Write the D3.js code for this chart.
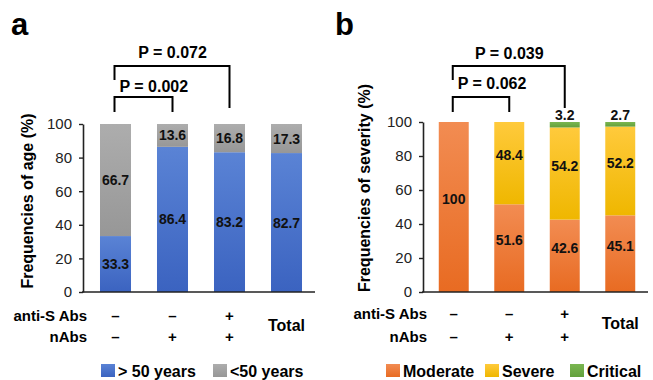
<!DOCTYPE html>
<html lang="en">
<head>
<meta charset="UTF-8">
<title>Age and severity frequencies</title>
<style>
  body { margin: 0; background: #fff; }
  svg text { font-family: "Liberation Sans", Arial, sans-serif; }
</style>
</head>
<body>
<div id="chart"></div>
<script src="https://d3js.org/d3.v7.min.js"></script>
<script>
// ---- data ----
var groups = ["g1", "g2", "g3", "total"];
var antiSRow = ["\u2013", "\u2013", "+", ""];
var nAbsRow = ["\u2013", "+", "+", ""];
var yTicks = [0, 20, 40, 60, 80, 100];

var ageSeries = ["> 50 years", "<50 years"];
var over50 = [33.3, 86.4, 83.2, 82.7];
var under50 = [66.7, 13.6, 16.8, 17.3];

var severitySeries = ["Moderate", "Severe", "Critical"];
var moderate = [100, 51.6, 42.6, 45.1];
var severe = [0, 48.4, 54.2, 52.2];
var critical = [0, 0, 3.2, 2.7];

var ageP = [{a: 0, b: 1, text: "P = 0.002"}, {a: 0, b: 2, text: "P = 0.072"}];
var sevP = [{a: 0, b: 1, text: "P = 0.062"}, {a: 0, b: 2, text: "P = 0.039"}];

var svg = d3.select("#chart").append("svg")
    .attr("width", 653)
    .attr("height", 380);

var defs = svg.append("defs");
function grad(id, top, bottom) {
    var g = defs.append("linearGradient").attr("id", id)
        .attr("x1", 0).attr("y1", 0).attr("x2", 0).attr("y2", 1);
    g.append("stop").attr("offset", "0%").attr("stop-color", top);
    g.append("stop").attr("offset", "100%").attr("stop-color", bottom);
}
grad("gBlue", "#5a83d5", "#3b63c0");
grad("gGray", "#adadad", "#979797");
grad("gOrange", "#f28c52", "#e86b22");
grad("gYellow", "#ffca3c", "#efb700");
grad("gGreen", "#7ab650", "#62a03c");

// draws one stacked panel
function panel(opt) {
    var g = svg.append("g");
    var y = d3.scaleLinear().domain([0, 100]).range([292, opt.yTop]);
    var x = d3.scaleBand().domain(groups)
        .range([opt.x0, opt.x1])
        .paddingInner(opt.pad)
        .paddingOuter(opt.pad / 2);

    var rows = groups.map(function(k, i) {
        var r = {key: k};
        opt.series.forEach(function(s, j) { r[s] = opt.values[j][i]; });
        return r;
    });
    var stacked = d3.stack().keys(opt.series)(rows);

    stacked.forEach(function(layer, j) {
        g.append("g").selectAll("rect")
            .data(layer)
            .enter().append("rect")
            .attr("x", function(d) { return x(d.data.key); })
            .attr("y", function(d) { return y(d[1]); })
            .attr("width", x.bandwidth())
            .attr("height", function(d) { return y(d[0]) - y(d[1]); })
            .attr("fill", "url(#" + opt.fills[j] + ")");
    });

    // value labels
    stacked.forEach(function(layer, j) {
        g.append("g").selectAll("text")
            .data(layer.filter(function(d) { return d[1] - d[0] > 0; }))
            .enter().append("text")
            .attr("x", function(d) { return x(d.data.key) + x.bandwidth() / 2; })
            .attr("y", function(d) {
                if (opt.above && j === opt.series.length - 1) return y(d[1]) - 2;
                return y((d[0] + d[1]) / 2) + 5 + opt.labelShift;
            })
            .attr("text-anchor", "middle")
            .attr("font-size", "14px")
            .attr("font-weight", "bold")
            .attr("fill", "#111")
            .text(function(d) { return d3.format(".1~f")(d[1] - d[0]); });
    });

    // y axis
    var yAxis = d3.axisLeft(y).tickValues(yTicks).tickSizeInner(4).tickSizeOuter(0).tickPadding(7);
    var ya = g.append("g")
        .attr("transform", "translate(" + opt.axisX + ",0)")
        .call(yAxis);
    ya.select(".domain").attr("stroke", "#222").attr("stroke-width", 1.6);
    ya.selectAll(".tick line").attr("stroke", "#222").attr("stroke-width", 1.4);
    ya.selectAll(".tick text").attr("font-size", "15px").attr("fill", "#222");

    // x axis line
    g.append("line")
        .attr("x1", opt.axisX - 1).attr("x2", x.range()[1])
        .attr("y1", y(0)).attr("y2", y(0))
        .attr("stroke", "#222").attr("stroke-width", 1.6);

    // y title
    g.append("text")
        .attr("transform", "translate(" + opt.titleX + "," + opt.titleY + ") rotate(-90)")
        .attr("text-anchor", "middle")
        .attr("font-size", "16px")
        .attr("font-weight", "bold")
        .text(opt.title);

    // panel letter
    g.append("text")
        .attr("x", opt.letterX).attr("y", 35)
        .attr("font-size", "31px").attr("font-weight", "bold")
        .text(opt.letter);

    // category rows
    g.append("text").attr("x", opt.axisX + 4).attr("y", opt.row1)
        .attr("text-anchor", "end").attr("font-size", "15px").attr("font-weight", "bold")
        .text("anti-S Abs");
    g.append("text").attr("x", opt.axisX + 4).attr("y", 342)
        .attr("text-anchor", "end").attr("font-size", "15px").attr("font-weight", "bold")
        .text("nAbs");
    g.append("g").selectAll("text").data(groups.slice(0, 3)).enter().append("text")
        .attr("x", function(d) { return x(d) + x.bandwidth() / 2; })
        .attr("y", opt.row1)
        .attr("text-anchor", "middle").attr("font-size", "15px").attr("font-weight", "bold")
        .text(function(d, i) { return antiSRow[i]; });
    g.append("g").selectAll("text").data(groups.slice(0, 3)).enter().append("text")
        .attr("x", function(d) { return x(d) + x.bandwidth() / 2; })
        .attr("y", 342)
        .attr("text-anchor", "middle").attr("font-size", "15px").attr("font-weight", "bold")
        .text(function(d, i) { return nAbsRow[i]; });
    g.append("text")
        .attr("x", x("total") + x.bandwidth() / 2).attr("y", opt.totalY)
        .attr("text-anchor", "middle").attr("font-size", "16px").attr("font-weight", "bold")
        .text("Total");

    // significance brackets
    var cx = function(i) { return x(groups[i]) + x.bandwidth() / 2; };
    var b1 = opt.p[0], b2 = opt.p[1];
    g.append("path")
        .attr("d", "M" + (cx(b1.a) - 1) + ",112V97H" + cx(b1.b) + "V112")
        .attr("fill", "none").attr("stroke", "#000").attr("stroke-width", 2);
    g.append("text")
        .attr("x", cx(b1.a) + 4).attr("y", opt.p1Y)
        .attr("font-size", "16px").attr("font-weight", "bold")
        .text(b1.text);
    g.append("path")
        .attr("d", "M" + (cx(b2.a) - 1) + ",80V66H" + cx(b2.b) + "V108")
        .attr("fill", "none").attr("stroke", "#000").attr("stroke-width", 2);
    g.append("text")
        .attr("x", (cx(b2.a) + cx(b2.b)) / 2).attr("y", opt.p2Y)
        .attr("text-anchor", "middle")
        .attr("font-size", "16px").attr("font-weight", "bold")
        .text(b2.text);

    // legend
    var lg = g.append("g").selectAll("g").data(opt.series).enter().append("g")
        .attr("transform", function(d, i) { return "translate(" + opt.legendX[i] + ",364)"; });
    lg.append("rect").attr("width", 14).attr("height", 13)
        .attr("fill", function(d, i) { return "url(#" + opt.fills[i] + ")"; });
    lg.append("text").attr("x", 17).attr("y", 13)
        .attr("font-size", "16px").attr("font-weight", "bold")
        .text(function(d) { return d; });
}

panel({
    series: ageSeries, values: [over50, under50], fills: ["gBlue", "gGray"],
    yTop: 124, x0: 87, x1: 315, pad: 0.456, axisX: 83,
    title: "Frequencies of age (%)", titleX: 33, titleY: 201,
    letter: "a", letterX: 11, labelShift: 0, above: false,
    row1: 321, totalY: 331, p: ageP, p1Y: 92, p2Y: 58,
    legendX: [101, 213]
});

panel({
    series: severitySeries, values: [moderate, severe, critical],
    fills: ["gOrange", "gYellow", "gGreen"],
    yTop: 122, x0: 426, x1: 648, pad: 0.46, axisX: 423,
    title: "Frequencies of severity (%)", titleX: 370, titleY: 188,
    letter: "b", letterX: 335, labelShift: -8, above: true,
    row1: 319, totalY: 329, p: sevP, p1Y: 89, p2Y: 59,
    legendX: [386, 485, 570]
});
</script>
</body>
</html>
